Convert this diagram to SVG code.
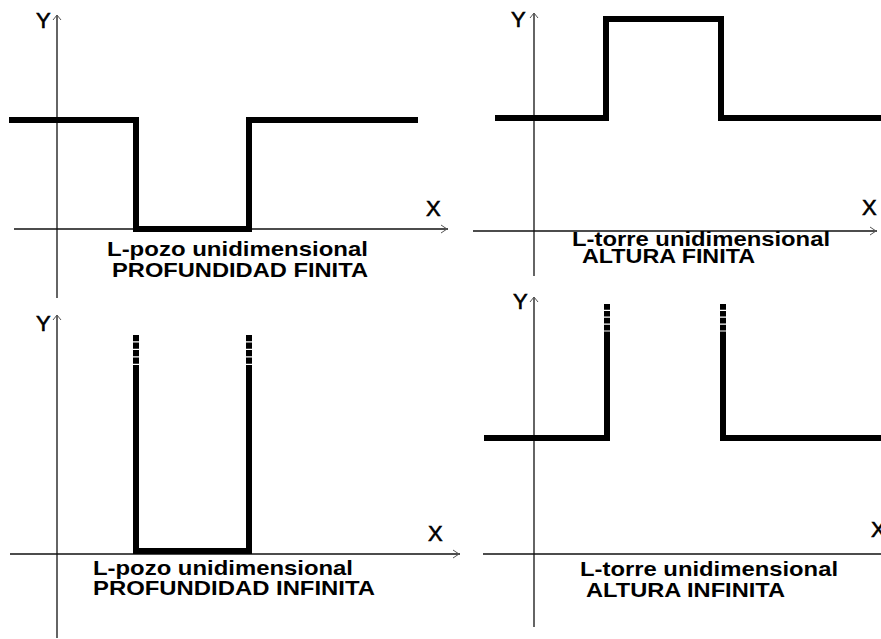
<svg xmlns="http://www.w3.org/2000/svg" width="881" height="639" viewBox="0 0 881 639">
<style>
.axis{stroke:#111;stroke-width:1.3;fill:none}
.arr{stroke:#555;stroke-width:1;fill:none}
.pot{stroke:#000;stroke-width:6;fill:none;stroke-linejoin:miter;stroke-linecap:butt}
.dash{stroke:#000;stroke-width:6;fill:none;stroke-dasharray:6.2 1.3}
.dash2{stroke:#000;stroke-width:6;fill:none;stroke-dasharray:5.7 1.2}
.ax{font-family:"Liberation Sans",Arial,sans-serif;font-size:22px;fill:#000;stroke:#000;stroke-width:0.6}
.lbl{font-family:"Liberation Sans",Arial,sans-serif;font-size:21px;font-weight:bold;fill:#000}
</style>
<rect width="881" height="639" fill="#fff"/>
<g id="connectors">
  <line class="axis" x1="57" y1="15" x2="57" y2="298"/>
  <line class="axis" x1="14" y1="229" x2="448" y2="229"/>
  <polyline class="arr" points="441,225 447,229 441,233"/>
  <polyline class="arr" points="53,20 57,15 61,20"/>
  <line class="axis" x1="534" y1="13" x2="534" y2="276"/>
  <line class="axis" x1="473" y1="231" x2="877" y2="231"/>
  <polyline class="arr" points="870,227 876,231 870,235"/>
  <polyline class="arr" points="530,18 534,13 538,18"/>
  <line class="axis" x1="57" y1="315" x2="57" y2="638"/>
  <line class="axis" x1="10" y1="554" x2="460" y2="554"/>
  <polyline class="arr" points="453,550 459,554 453,558"/>
  <polyline class="arr" points="53,320 57,315 61,320"/>
  <line class="axis" x1="534" y1="297" x2="534" y2="627"/>
  <line class="axis" x1="483" y1="554" x2="881" y2="554"/>
  <polyline class="arr" points="530,302 534,297 538,302"/>
</g>
<g id="pozo-finito">
  <path class="pot" d="M9,120 H136 V229 H249 V120 H418"/>
  <text class="ax" x="36" y="28">Y</text>
  <text class="ax" x="426" y="216">X</text>
  <text class="lbl" x="107" y="256" textLength="261" lengthAdjust="spacingAndGlyphs">L-pozo unidimensional</text>
  <text class="lbl" x="112" y="277" textLength="256" lengthAdjust="spacingAndGlyphs">PROFUNDIDAD FINITA</text>
</g>
<g id="torre-finita">
  <path class="pot" d="M495,118 H606 V19 H721 V118 H881"/>
  <text class="ax" x="511" y="27">Y</text>
  <text class="ax" x="862" y="215">X</text>
  <text class="lbl" x="572" y="246" textLength="258" lengthAdjust="spacingAndGlyphs">L-torre unidimensional</text>
  <text class="lbl" x="582" y="263" textLength="173" lengthAdjust="spacingAndGlyphs">ALTURA FINITA</text>
</g>
<g id="pozo-infinito">
  <path class="pot" d="M136,365 V551 H249 V365"/>
  <line class="dash" x1="136" y1="335" x2="136" y2="365"/>
  <line class="dash" x1="249" y1="335" x2="249" y2="365"/>
  <text class="ax" x="36" y="331">Y</text>
  <text class="ax" x="428" y="541">X</text>
  <text class="lbl" x="93" y="575" textLength="260" lengthAdjust="spacingAndGlyphs">L-pozo unidimensional</text>
  <text class="lbl" x="93" y="595" textLength="282" lengthAdjust="spacingAndGlyphs">PROFUNDIDAD INFINITA</text>
</g>
<g id="torre-infinita">
  <path class="pot" d="M484,438 H607 V332"/>
  <path class="pot" d="M723,332 V438 H881"/>
  <line class="dash2" x1="607" y1="304" x2="607" y2="332"/>
  <line class="dash2" x1="723" y1="304" x2="723" y2="332"/>
  <text class="ax" x="513" y="309">Y</text>
  <text class="ax" x="871" y="537">X</text>
  <text class="lbl" x="580" y="576" textLength="258" lengthAdjust="spacingAndGlyphs">L-torre unidimensional</text>
  <text class="lbl" x="586" y="597" textLength="199" lengthAdjust="spacingAndGlyphs">ALTURA INFINITA</text>
</g>
</svg>
